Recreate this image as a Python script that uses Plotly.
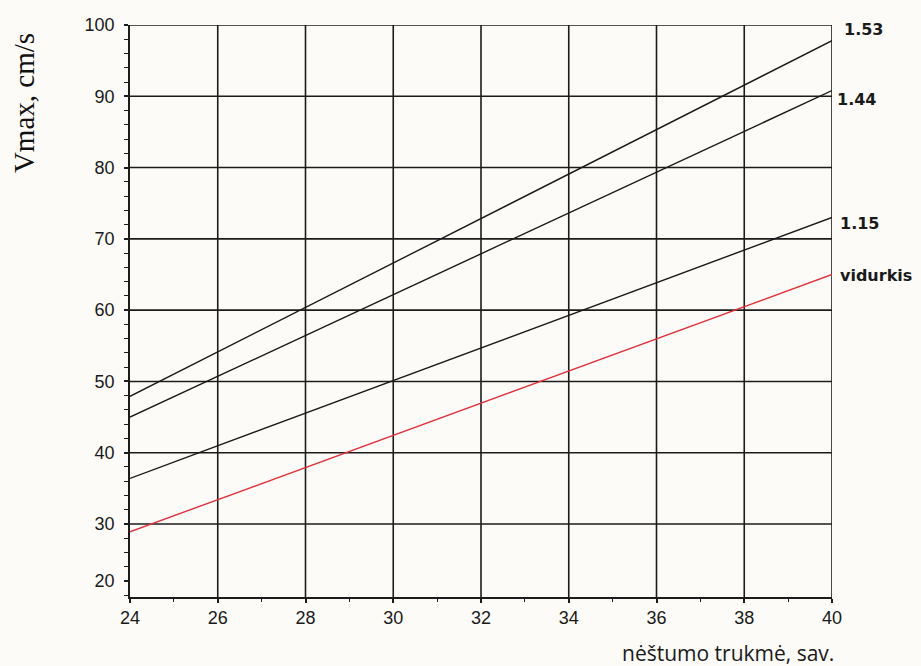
import plotly.graph_objects as go

# ---- data ----
weeks = [24, 40]
series_names = ["1.53", "1.44", "1.15", "vidurkis"]
v_153 = [47.9, 97.8]
v_144 = [45.0, 90.8]
v_115 = [36.4, 73.0]
v_mean = [28.9, 65.0]
x_ticks = [24, 26, 28, 30, 32, 34, 36, 38, 40]
y_tick_vals = [22, 30, 40, 50, 60, 70, 80, 90, 100]
y_tick_text = ["20", "30", "40", "50", "60", "70", "80", "90", "100"]
y_grid = [30, 40, 50, 60, 70, 80, 90, 100]
x_grid = [26, 28, 30, 32, 34, 36, 38, 40]

BG = "#fcfbf7"
fig = go.Figure()

series = [v_153, v_144, v_115, v_mean]
colors = ["#1a1a1a", "#1a1a1a", "#1a1a1a", "#e0323c"]
for name, vals, c in zip(series_names, series, colors):
    fig.add_trace(go.Scatter(x=weeks, y=vals, mode="lines", name=name,
                             line=dict(color=c, width=1.4), showlegend=False))

shapes = []
for gy in y_grid:
    shapes.append(dict(type="line", xref="x", yref="y", x0=24, x1=40, y0=gy, y1=gy,
                       line=dict(color="#1c1c1c", width=1.6), layer="below"))
for gx in x_grid:
    shapes.append(dict(type="line", xref="x", yref="paper", x0=gx, x1=gx, y0=0, y1=1,
                       line=dict(color="#1c1c1c", width=1.6), layer="below"))

# labels at right end of each line (pixel shifts relative to line end)
label_shift = [11, -9, -6, -1]
label_xshift = [10, 3, 6, 6]
annotations = []
for name, vals, ys, xs in zip(series_names, series, label_shift, label_xshift):
    annotations.append(dict(x=40, y=vals[-1], xref="x", yref="y", text="<b>%s</b>" % name,
                            showarrow=False, xanchor="left", yanchor="middle",
                            xshift=xs, yshift=ys,
                            font=dict(family="DejaVu Sans", size=16, color="#1a1a1a")))

annotations.append(dict(x=1.005, y=-0.098, xref="paper", yref="paper",
                        text="nėštumo trukmė, sav.", showarrow=False,
                        xanchor="right", yanchor="middle",
                        font=dict(family="Open Sans", size=21, color="#1a1a1a")))
annotations.append(dict(x=-0.152, y=0.864, xref="paper", yref="paper",
                        text="Vmax, cm/s", showarrow=False, textangle=-90,
                        xanchor="center", yanchor="middle",
                        font=dict(family="Liberation Serif", size=29, color="#111111")))

fig.update_layout(
    width=921, height=666,
    margin=dict(l=130, r=89, t=25, b=69),
    paper_bgcolor=BG, plot_bgcolor=BG,
    shapes=shapes, annotations=annotations,
    xaxis=dict(range=[24, 40], tickvals=x_ticks, showgrid=False, zeroline=False,
               showline=True, linecolor="#1c1c1c", linewidth=1.6,
               ticks="outside", ticklen=4, tickwidth=1.6, tickcolor="#1c1c1c",
               minor=dict(dtick=1, tick0=0, ticks="outside", ticklen=3, tickwidth=1.4,
                          tickcolor="#1c1c1c", showgrid=False),
               tickfont=dict(family="Liberation Sans", size=18, color="#1a1a1a")),
    yaxis=dict(range=[19.76, 100], tickvals=y_tick_vals, ticktext=y_tick_text,
               showgrid=False, zeroline=False,
               showline=True, linecolor="#1c1c1c", linewidth=1.6,
               ticks="outside", ticklen=4, tickwidth=1.6, tickcolor="#1c1c1c",
               ticklabelstandoff=6,
               minor=dict(dtick=2, tick0=0, ticks="outside", ticklen=4, tickwidth=1.4,
                          tickcolor="#1c1c1c", showgrid=False),
               tickfont=dict(family="Liberation Sans", size=18, color="#1a1a1a")),
)

fig.write_html(
    "out.html",
    config={"displayModeBar": False},
    post_script="document.body.style.margin='0';document.body.style.overflow='hidden';"
                "document.body.style.background='%s';" % BG,
)
